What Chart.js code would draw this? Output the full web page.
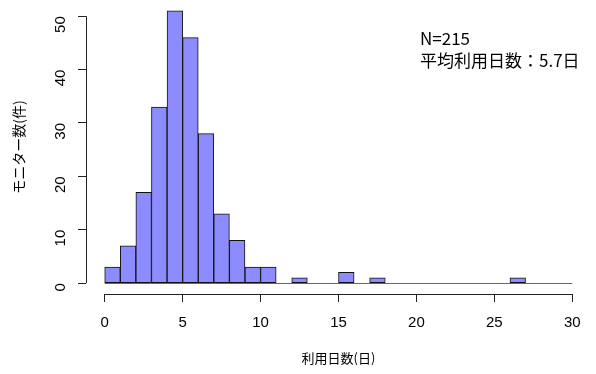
<!DOCTYPE html>
<html>
<head>
<meta charset="utf-8">
<script src="https://cdn.jsdelivr.net/npm/chart.js@4/dist/chart.umd.min.js"></script>
<style>
  html, body { margin: 0; padding: 0; background: #fff; }
  #wrap { position: relative; width: 596px; height: 374px; }
  .note { position: absolute; left: 420px; font-family: "Noto Sans CJK JP", "Noto Sans", sans-serif; font-size: 17px; line-height: 17px; color: #000; white-space: nowrap; }
</style>
</head>
<body>
<div id="wrap">
  <canvas id="hist" width="596" height="374"></canvas>
  <div class="note" style="top:29px">N=215</div>
  <div class="note" style="top:51px">平均利用日数：5.7日</div>
</div>
<script>
// histogram bins, width 1 day, from 0 to 30
const binStarts = Array.from({ length: 30 }, (_, i) => i);
const counts = [3, 7, 17, 33, 51, 46, 28, 13, 8, 3,
                3, 0, 1, 0, 0, 2, 0, 1, 0, 0,
                0, 0, 0, 0, 0, 0, 1, 0, 0, 0];
const xTicks = [0, 5, 10, 15, 20, 25, 30];
const yTicks = [0, 10, 20, 30, 40, 50];

const xLabel = '利用日数(日)';
const yLabel = 'モニター数(件)';

// R style 4% padding around data range
const xLo = 0, xHi = 30;
const yHi = Math.max(...counts);
const xPad = (xHi - xLo) * 0.04;
const yPad = yHi * 0.04;

const tickFont = { family: 'Liberation Sans, Arial, sans-serif', size: 15 };
const axisColor = '#222';

// draws R-like axis lines only between the first and last ticks, plus the zero baseline
const rAxes = {
    id: 'rAxes',
    beforeDatasetsDraw(chart) {
        const { ctx, chartArea, scales } = chart;
        const x = scales.x, y = scales.y;
        ctx.save();
        ctx.strokeStyle = '#666';
        ctx.lineWidth = 1;
        const y0 = Math.round(y.getPixelForValue(0)) + 0.5;
        ctx.beginPath();
        ctx.moveTo(x.getPixelForValue(xLo), y0);
        ctx.lineTo(x.getPixelForValue(xHi), y0);
        ctx.stroke();

        ctx.strokeStyle = axisColor;
        const xb = Math.round(chartArea.bottom) + 0.5;
        ctx.beginPath();
        ctx.moveTo(x.getPixelForValue(xTicks[0]), xb);
        ctx.lineTo(x.getPixelForValue(xTicks[xTicks.length - 1]), xb);
        ctx.stroke();
        const yl = Math.round(chartArea.left) + 0.5;
        ctx.beginPath();
        ctx.moveTo(yl, y.getPixelForValue(yTicks[0]));
        ctx.lineTo(yl, y.getPixelForValue(yTicks[yTicks.length - 1]));
        ctx.stroke();
        ctx.restore();
    }
};

const ctx = document.getElementById('hist').getContext('2d');
new Chart(ctx, {
    type: 'bar',
    data: {
        datasets: [{
            data: binStarts.map((s, i) => ({ x: s + 0.5, y: counts[i] })),
            backgroundColor: '#8C8CFF',
            borderColor: '#111',
            borderWidth: 1,
            borderSkipped: false,
            barPercentage: 1,
            categoryPercentage: 1
        }]
    },
    plugins: [rAxes],
    options: {
        responsive: false,
        animation: false,
        layout: { padding: { top: 0, right: 5, left: 0, bottom: 0 } },
        plugins: { legend: { display: false }, tooltip: { enabled: false } },
        scales: {
            x: {
                type: 'linear',
                offset: false,
                min: xLo - xPad,
                max: xHi + xPad,
                afterBuildTicks: s => { s.ticks = xTicks.map(v => ({ value: v })); },
                afterFit: s => { s.height = 80; s.paddingLeft = 0; s.paddingRight = 0; },
                border: { display: false },
                grid: { drawOnChartArea: false, drawTicks: true, tickLength: 8, color: axisColor, offset: false },
                ticks: { font: tickFont, color: '#000', padding: 12, maxRotation: 0, autoSkip: false },
                title: { display: true, text: xLabel, font: { family: 'Noto Sans CJK JP', size: 13 }, color: '#000', padding: { top: 4, bottom: 8 } }
            },
            y: {
                min: -yPad,
                max: yHi + yPad,
                afterBuildTicks: s => { s.ticks = yTicks.map(v => ({ value: v })); },
                afterFit: s => { s.width = 86; s.paddingTop = 0; s.paddingBottom = 0; },
                border: { display: false },
                grid: { drawOnChartArea: false, drawTicks: true, tickLength: 8, color: axisColor },
                ticks: { font: tickFont, color: '#000', padding: 17, minRotation: 90, maxRotation: 90, autoSkip: false },
                title: { display: true, text: yLabel, font: { family: 'Noto Sans CJK JP', size: 14 }, color: '#000', padding: { top: 10, bottom: 10 } }
            }
        }
    }
});
</script>
</body>
</html>
